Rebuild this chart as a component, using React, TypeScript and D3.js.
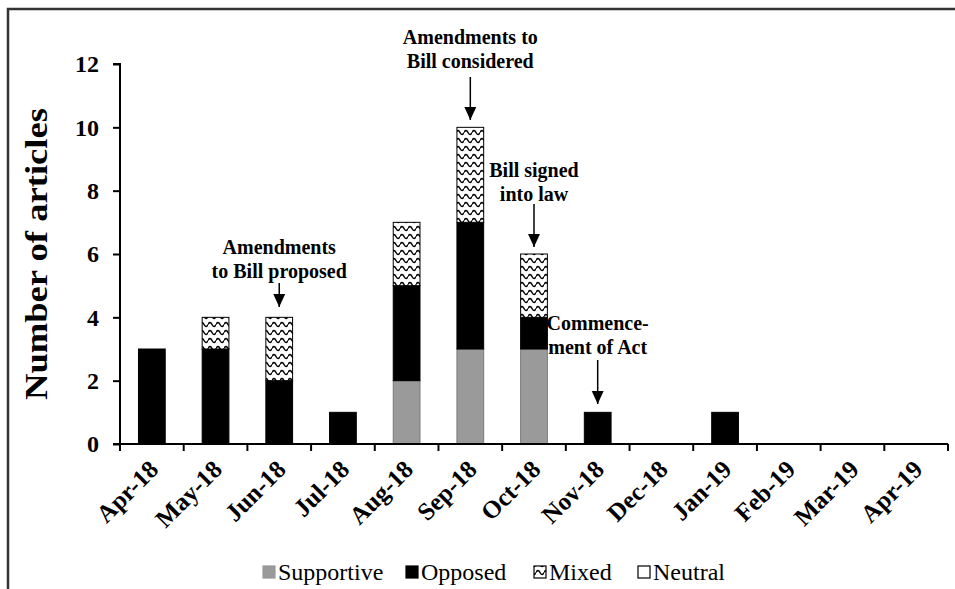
import { useEffect, useRef } from "react";
import * as d3 from "d3";

const months = [
  "Apr-18", "May-18", "Jun-18", "Jul-18", "Aug-18", "Sep-18", "Oct-18",
  "Nov-18", "Dec-18", "Jan-19", "Feb-19", "Mar-19", "Apr-19",
];
const supportive = [0, 0, 0, 0, 2, 3, 3, 0, 0, 0, 0, 0, 0];
const opposed = [3, 3, 2, 1, 3, 4, 1, 1, 0, 1, 0, 0, 0];
const mixed = [0, 1, 2, 0, 2, 3, 2, 0, 0, 0, 0, 0, 0];
const neutral = [0, 0, 0, 0, 0, 0, 0, 0, 0, 0, 0, 0, 0];
const seriesNames = ["Supportive", "Opposed", "Mixed", "Neutral"];
const yTicks = [0, 2, 4, 6, 8, 10, 12];

const annotations = [
  { month: "Jun-18", lines: ["Amendments", "to Bill proposed"], textY: 254, y1: 283, y2: 307 },
  { month: "Sep-18", lines: ["Amendments to", "Bill considered"], textY: 44, y1: 77, y2: 120 },
  { month: "Oct-18", lines: ["Bill signed", "into law"], textY: 177, y1: 204, y2: 247 },
  { month: "Nov-18", lines: ["Commence-", "ment of Act"], textY: 330, y1: 360, y2: 404 },
];

const W = 955;
const H = 589;
const margin = { top: 64, right: 7, bottom: 145, left: 120 };

const App = () => {
  const ref = useRef<SVGSVGElement | null>(null);

  useEffect(() => {
    if (!ref.current) return;
    const svg = d3.select(ref.current);
    svg.selectAll("*").remove();
    const font = "'Liberation Serif', 'Times New Roman', serif";

    const defs = svg.append("defs");
    const pat = defs.append("pattern")
      .attr("id", "wave")
      .attr("patternUnits", "userSpaceOnUse")
      .attr("width", 8)
      .attr("height", 8);
    pat.append("rect").attr("width", 8).attr("height", 8).attr("fill", "#fff");
    pat.append("path")
      .attr("d", "M0,4.5 Q2,0.5 4,4.5 T8,4.5")
      .attr("fill", "none")
      .attr("stroke", "#000")
      .attr("stroke-width", 1.5);

    const mk = defs.append("marker")
      .attr("id", "arrow")
      .attr("viewBox", "0 0 12 12")
      .attr("refX", 12)
      .attr("refY", 6)
      .attr("markerWidth", 9)
      .attr("markerHeight", 9)
      .attr("markerUnits", "strokeWidth")
      .attr("orient", "auto");
    mk.append("path").attr("d", "M0,0.5 L12,6 L0,11.5 Z").attr("fill", "#000");

    // frame
    svg.append("rect")
      .attr("x", 8).attr("y", 9)
      .attr("width", W + 20).attr("height", H + 20)
      .attr("fill", "none")
      .attr("stroke", "#333")
      .attr("stroke-width", 2.5);

    const x = d3.scaleBand()
      .domain(months)
      .range([margin.left, W - margin.right])
      .paddingInner(0.58)
      .paddingOuter(0.29);

    const y = d3.scaleLinear()
      .domain([0, 12])
      .range([H - margin.bottom, margin.top]);

    const rows = months.map((m, i) => ({
      month: m,
      Supportive: supportive[i],
      Opposed: opposed[i],
      Mixed: mixed[i],
      Neutral: neutral[i],
    }));

    const layers = d3.stack<any>().keys(seriesNames)(rows);
    const fills: Record<string, string> = {
      Supportive: "#9a9a9a",
      Opposed: "#000000",
      Mixed: "url(#wave)",
      Neutral: "#ffffff",
    };

    svg.append("g")
      .selectAll("g")
      .data(layers)
      .join("g")
      .attr("fill", d => fills[d.key])
      .attr("stroke", d => (d.key === "Supportive" ? "#7a7a7a" : "#000"))
      .attr("stroke-width", 1)
      .selectAll("rect")
      .data(d => d.filter(s => s[1] - s[0] > 0))
      .join("rect")
      .attr("x", d => x(d.data.month)!)
      .attr("y", d => y(d[1]))
      .attr("width", x.bandwidth())
      .attr("height", d => y(d[0]) - y(d[1]));

    // y axis
    const yAxis = svg.append("g")
      .attr("transform", `translate(${margin.left},0)`)
      .call(d3.axisLeft(y).tickValues(yTicks).tickSize(7).tickPadding(14));
    yAxis.select(".domain").attr("stroke", "#000").attr("stroke-width", 2).attr("d", `M-7,${y(12)}H0V${y(0)}`);
    yAxis.selectAll(".tick line").attr("stroke", "#000").attr("stroke-width", 2);
    yAxis.selectAll("text")
      .attr("font-family", font)
      .attr("font-weight", "bold")
      .attr("font-size", 24)
      .attr("fill", "#000");

    // x axis with ticks at category boundaries
    const x0 = margin.left;
    const x1 = W - margin.right;
    const step = x.step();
    const base = y(0);
    const xg = svg.append("g");
    xg.append("line")
      .attr("x1", x0 - 7).attr("x2", x1)
      .attr("y1", base).attr("y2", base)
      .attr("stroke", "#000").attr("stroke-width", 2);
    xg.selectAll("line.tk")
      .data(d3.range(months.length + 1))
      .join("line")
      .attr("class", "tk")
      .attr("x1", i => x0 + i * step)
      .attr("x2", i => x0 + i * step)
      .attr("y1", base)
      .attr("y2", base + 7)
      .attr("stroke", "#000")
      .attr("stroke-width", 2);
    xg.selectAll("text")
      .data(months)
      .join("text")
      .attr("transform", d => `translate(${x(d)! + x.bandwidth() / 2 + 8},${base + 27}) rotate(-45)`)
      .attr("text-anchor", "end")
      .attr("font-family", font)
      .attr("font-weight", "bold")
      .attr("font-size", 25)
      .attr("fill", "#000")
      .text(d => d);

    // y title
    svg.append("text")
      .attr("transform", `translate(47,${(y(0) + y(12)) / 2}) rotate(-90)`)
      .attr("text-anchor", "middle")
      .attr("font-family", font)
      .attr("font-weight", "bold")
      .attr("font-size", 31)
      .attr("textLength", 292)
      .attr("lengthAdjust", "spacingAndGlyphs")
      .attr("fill", "#000")
      .text("Number of articles");

    // annotations
    const ann = svg.append("g");
    annotations.forEach(a => {
      const cx = x(a.month)! + x.bandwidth() / 2;
      const t = ann.append("text")
        .attr("text-anchor", "middle")
        .attr("font-family", font)
        .attr("font-weight", "bold")
        .attr("font-size", 20)
        .attr("fill", "#000");
      a.lines.forEach((l, i) => {
        t.append("tspan")
          .attr("x", cx)
          .attr("y", a.textY + i * 24)
          .text(l);
      });
      ann.append("line")
        .attr("x1", cx).attr("x2", cx)
        .attr("y1", a.y1).attr("y2", a.y2)
        .attr("stroke", "#000")
        .attr("stroke-width", 1.5)
        .attr("marker-end", "url(#arrow)");
    });

    // legend
    const legendItems = [
      { name: "Supportive", x: 263 },
      { name: "Opposed", x: 406 },
      { name: "Mixed", x: 534 },
      { name: "Neutral", x: 638 },
    ];
    const lg = svg.append("g");
    legendItems.forEach(it => {
      lg.append("rect")
        .attr("x", it.x)
        .attr("y", 566)
        .attr("width", 12)
        .attr("height", 12)
        .attr("fill", it.name === "Mixed" ? "url(#wave)" : fills[it.name])
        .attr("stroke", it.name === "Supportive" ? "#9a9a9a" : "#000")
        .attr("stroke-width", 1.2);
      lg.append("text")
        .attr("x", it.x + 15)
        .attr("y", 580)
        .attr("font-family", font)
        .attr("font-size", 24)
        .attr("fill", "#000")
        .text(it.name);
    });
  }, []);

  return (
    <svg
      ref={ref}
      width={W}
      height={H}
      style={{ position: "absolute", left: 0, top: 0, background: "#fff" }}
    />
  );
};

export default App;
